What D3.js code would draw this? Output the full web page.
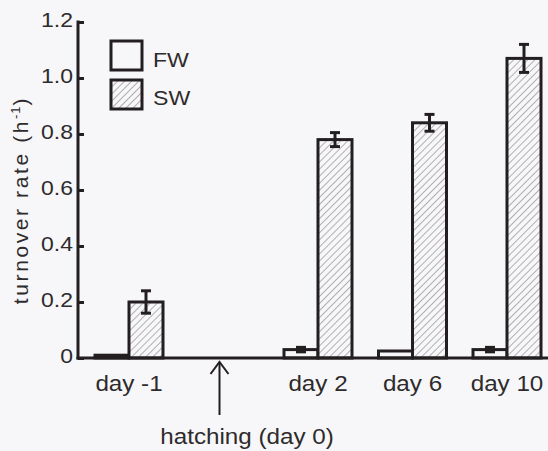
<!DOCTYPE html>
<html><head><meta charset="utf-8">
<script src="https://cdn.jsdelivr.net/npm/d3@7"></script>
<style>html,body{margin:0;padding:0;background:#f7f7f9;}svg{display:block;font-family:"Liberation Sans",Arial,sans-serif;}</style>
</head><body>
<svg id="c" width="548" height="451"></svg>
<script>
const categories = ["day -1", "day 2", "day 6", "day 10"];
const slots = ["day -1", "hatching", "day 2", "day 6", "day 10"];
const fwValues = [0.01, 0.03, 0.025, 0.03];
const fwErrors = [0, 0.008, 0, 0.008];
const swValues = [0.20, 0.78, 0.84, 1.07];
const swErrors = [0.04, 0.025, 0.03, 0.05];
const yTicks = [0, 0.2, 0.4, 0.6, 0.8, 1.0, 1.2];
const seriesNames = ["FW", "SW"];

const ink = "#231f20";
const txt = "#2e2b2c";
const bg = "#f7f7f9";
const svg = d3.select("#c");
const defs = svg.append("defs");
const pat = defs.append("pattern").attr("id","hatch").attr("patternUnits","userSpaceOnUse")
  .attr("width",5).attr("height",5).attr("patternTransform","rotate(45)");
pat.append("rect").attr("width",5).attr("height",5).attr("fill",bg);
pat.append("line").attr("x1",0).attr("y1",0).attr("x2",0).attr("y2",5)
  .attr("stroke","#6a6668").attr("stroke-width",1);

const x = d3.scalePoint().domain(slots).range([129, 507]);
const y = d3.scaleLinear().domain([0, 1.2]).range([358, 22]);
const bw = 34;

function label(px, py, s, size, anchor, sx) {
  const g = svg.append("g").attr("transform", `translate(${px},${py}) scale(${sx},1)`);
  g.append("text").attr("text-anchor", anchor).attr("font-size", size).attr("fill", txt).text(s);
  return g;
}

// bars
const bars = svg.append("g");
categories.forEach((c, i) => {
  const cx = x(c);
  bars.append("rect").attr("x", cx - bw).attr("y", y(fwValues[i]))
    .attr("width", bw).attr("height", y(0) - y(fwValues[i]))
    .attr("fill", bg).attr("stroke", ink).attr("stroke-width", 3);
  bars.append("rect").attr("x", cx).attr("y", y(swValues[i]))
    .attr("width", bw).attr("height", y(0) - y(swValues[i]))
    .attr("fill", "url(#hatch)").attr("stroke", ink).attr("stroke-width", 3);
});
function err(cx, v, e) {
  if (e <= 0) return;
  const g = svg.append("g").attr("stroke", ink).attr("stroke-width", 3);
  g.append("line").attr("x1", cx).attr("x2", cx).attr("y1", y(v + e)).attr("y2", y(v - e));
  g.append("line").attr("x1", cx - 5).attr("x2", cx + 5).attr("y1", y(v + e)).attr("y2", y(v + e));
  g.append("line").attr("x1", cx - 5).attr("x2", cx + 5).attr("y1", y(v - e)).attr("y2", y(v - e));
}
categories.forEach((c, i) => {
  err(x(c) - bw / 2, fwValues[i], fwErrors[i]);
  err(x(c) + bw / 2, swValues[i], swErrors[i]);
});

// y axis
const yAxis = svg.append("g").attr("transform", "translate(78,0)")
  .call(d3.axisRight(y).tickValues(yTicks).tickSize(6).tickFormat(""));
yAxis.select(".domain").remove();
yAxis.selectAll(".tick line").attr("stroke", ink).attr("stroke-width", 3);
yTicks.forEach(t => label(73, y(t) + 5, t === 0 ? "0" : d3.format(".1f")(t), 20, "end", 1.15));
svg.append("line").attr("x1", 78).attr("x2", 78).attr("y1", y(1.2) - 1.5).attr("y2", y(0) + 1.5)
  .attr("stroke", ink).attr("stroke-width", 3);

// x axis
svg.append("line").attr("x1", 76.5).attr("x2", 548).attr("y1", y(0)).attr("y2", y(0))
  .attr("stroke", ink).attr("stroke-width", 3);
const xAxis = svg.append("g").attr("transform", "translate(0," + y(0) + ")")
  .call(d3.axisBottom(x).tickValues(categories).tickSize(0).tickFormat(""));
xAxis.select(".domain").remove();
categories.forEach(c => label(x(c), 391, c, 22, "middle", 1.1));

// hatching arrow
const ax = x("hatching") - 4;
const ag = svg.append("g").attr("stroke", ink).attr("stroke-width", 2).attr("fill", "none");
ag.append("line").attr("x1", ax).attr("x2", ax).attr("y1", 362).attr("y2", 415);
ag.append("path").attr("d", `M${ax - 9},${374} L${ax},${362} L${ax + 9},${374}`);
label(247, 444, "hatching (day 0)", 22, "middle", 1.1);

// y label
const yl = svg.append("text").attr("transform", "translate(28,200) rotate(-90)")
  .attr("text-anchor", "middle").attr("fill", txt).attr("font-size", 21)
  .attr("letter-spacing", 2.6);
yl.append("tspan").text("turnover rate (h");
yl.append("tspan").attr("font-size", 13).attr("dy", -8).attr("letter-spacing", 1).text("-1");
yl.append("tspan").attr("dy", 8).text(")");

// legend
seriesNames.forEach((s, i) => {
  svg.append("rect").attr("x", 111).attr("y", 41 + i * 39).attr("width", 31).attr("height", 29)
    .attr("fill", i === 0 ? bg : "url(#hatch)").attr("stroke", ink).attr("stroke-width", 3);
  label(153, 67 + i * 37.5, s, 21, "start", 1.1);
});
</script>
</body></html>
